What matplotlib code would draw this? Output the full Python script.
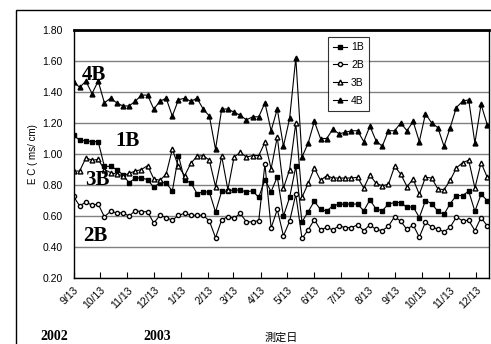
import matplotlib
matplotlib.use("Agg")
import matplotlib.pyplot as plt
import pandas as pd
from matplotlib.patches import Rectangle

# weekly measurements, 2002-09-13 .. 2003-12-26
dates = pd.date_range("2002-09-13", periods=68, freq="7D")

ec_1b = [1.12, 1.09, 1.085, 1.08, 1.08, 0.92, 0.92, 0.90, 0.865, 0.815,
         0.845, 0.845, 0.835, 0.785, 0.815, 0.815, 0.76, 0.99, 0.83, 0.815,
         0.745, 0.755, 0.755, 0.625, 0.76, 0.76, 0.77, 0.765, 0.757, 0.762,
         0.72, 0.835, 0.757, 0.853, 0.60, 0.72, 0.92, 0.562, 0.628, 0.695,
         0.642, 0.632, 0.666, 0.675, 0.677, 0.677, 0.677, 0.634, 0.704, 0.645,
         0.634, 0.677, 0.687, 0.687, 0.655, 0.66, 0.59, 0.70, 0.68, 0.63,
         0.61, 0.68, 0.732, 0.732, 0.76, 0.63, 0.74, 0.70]
ec_2b = [0.727, 0.665, 0.69, 0.67, 0.677, 0.595, 0.63, 0.62, 0.62, 0.60,
         0.634, 0.628, 0.628, 0.554, 0.605, 0.59, 0.572, 0.605, 0.617, 0.605,
         0.605, 0.605, 0.568, 0.46, 0.575, 0.596, 0.585, 0.617, 0.562, 0.562,
         0.57, 0.935, 0.523, 0.642, 0.472, 0.567, 0.74, 0.455, 0.51, 0.577,
         0.51, 0.527, 0.51, 0.537, 0.525, 0.525, 0.543, 0.506, 0.543, 0.513,
         0.506, 0.534, 0.596, 0.566, 0.513, 0.543, 0.464, 0.56, 0.53, 0.515,
         0.498, 0.528, 0.593, 0.57, 0.572, 0.506, 0.59, 0.536]
ec_3b = [0.89, 0.89, 0.975, 0.96, 0.965, 0.90, 0.88, 0.87, 0.86, 0.875,
         0.89, 0.90, 0.925, 0.84, 0.83, 0.87, 1.03, 0.92, 0.86, 0.94,
         0.985, 0.99, 0.96, 0.79, 0.985, 0.77, 0.98, 1.01, 0.98, 0.99,
         0.99, 1.075, 0.905, 1.11, 0.78, 0.90, 1.20, 0.72, 0.81, 0.91,
         0.83, 0.86, 0.845, 0.845, 0.845, 0.845, 0.85, 0.78, 0.865, 0.81,
         0.795, 0.805, 0.92, 0.87, 0.79, 0.837, 0.74, 0.85, 0.845, 0.775,
         0.77, 0.83, 0.91, 0.944, 0.96, 0.78, 0.944, 0.85]
ec_4b = [1.467, 1.43, 1.47, 1.39, 1.47, 1.33, 1.36, 1.33, 1.31, 1.31,
         1.34, 1.38, 1.38, 1.29, 1.34, 1.36, 1.245, 1.35, 1.36, 1.34,
         1.36, 1.29, 1.245, 1.03, 1.29, 1.29, 1.27, 1.25, 1.22, 1.24,
         1.24, 1.33, 1.15, 1.29, 1.05, 1.23, 1.62, 0.98, 1.07, 1.21,
         1.10, 1.10, 1.16, 1.13, 1.14, 1.15, 1.15, 1.08, 1.18, 1.085,
         1.05, 1.15, 1.15, 1.20, 1.15, 1.21, 1.08, 1.26, 1.20, 1.17,
         1.05, 1.17, 1.30, 1.34, 1.35, 1.07, 1.32, 1.19]

tick_dates = pd.date_range("2002-09-13", periods=16, freq=pd.DateOffset(months=1))
tick_labels = ["9/13", "10/13", "11/13", "12/13", "1/13", "2/13", "3/13", "4/13",
               "5/13", "6/13", "7/13", "8/13", "9/13", "10/13", "11/13", "12/13"]
y_ticks = [0.20, 0.40, 0.60, 0.80, 1.00, 1.20, 1.40, 1.60, 1.80]

plt.rcParams["font.family"] = ["Liberation Sans", "Noto Sans CJK JP", "DejaVu Sans"]

fig = plt.figure(figsize=(4.91, 3.44), dpi=100)
ax = fig.add_axes([73.5 / 491, 1 - 278 / 344, 415.5 / 491, 248 / 344])

# outer chart frame (cut off at right and bottom)
fig.patches.append(Rectangle((16 / 491, -0.1), 1.2, 1 - 10 / 344 + 0.1,
                             transform=fig.transFigure, fill=False,
                             edgecolor="black", linewidth=1.0))

style = dict(color="black", linewidth=0.8)
ax.plot(dates, ec_1b, marker="s", markersize=3, markerfacecolor="black", label="1B", **style)
ax.plot(dates, ec_2b, marker="o", markersize=3, markerfacecolor="white", label="2B", **style)
ax.plot(dates, ec_3b, marker="^", markersize=3.5, markerfacecolor="white", label="3B", **style)
ax.plot(dates, ec_4b, marker="^", markersize=3.5, markerfacecolor="black", label="4B", **style)

ax.set_ylim(0.2, 1.8)
ax.set_yticks(y_ticks)
ax.set_yticklabels([f"{v:.2f}" for v in y_ticks], fontsize=7.5)
ax.yaxis.grid(True, color="#808080", linewidth=1.0)
ax.set_axisbelow(True)
ax.tick_params(axis="y", length=0, pad=8)

ax.set_xlim(pd.Timestamp("2002-09-13"), pd.Timestamp("2002-09-13") + pd.Timedelta(days=471))
ax.set_xticks(tick_dates)
ax.set_xticklabels(tick_labels, fontsize=7.5, rotation=45, ha="right", rotation_mode="anchor")
ax.tick_params(axis="x", direction="in", length=4, width=0.8, pad=5)

for s in ax.spines.values():
    s.set_color("black")
    s.set_linewidth(1.0)
ax.spines["top"].set_linewidth(2.0)

ax.set_ylabel("E C ( ms/ cm)", fontsize=7, labelpad=3)

leg = ax.legend(loc="upper left", bbox_to_anchor=(0.613, 0.972), borderaxespad=0,
                fontsize=7.5, handlelength=1.3, handletextpad=0.4, labelspacing=0.75,
                frameon=True, fancybox=False, borderpad=0.5)
leg.get_frame().set_edgecolor("black")
leg.get_frame().set_linewidth(0.8)

serif = dict(family="Liberation Serif", fontweight="bold", fontsize=15,
             transform=ax.transAxes, ha="center", va="center", zorder=5)
ax.text(0.049, 0.819, "4B", **serif)
ax.text(0.131, 0.552, "1B", **serif)
ax.text(0.057, 0.395, "3B", **serif)
ax.text(0.052, 0.169, "2B", **serif)

fig.text(281 / 491, 1 - 338 / 344, "測定日", fontsize=8, ha="center", va="center",
         family=["Noto Sans CJK JP", "DejaVu Sans"])
fig.text(54 / 491, 0.004, "2002", family="Liberation Serif", fontweight="bold",
         fontsize=10, ha="center", va="bottom")
fig.text(157 / 491, 0.004, "2003", family="Liberation Serif", fontweight="bold",
         fontsize=10, ha="center", va="bottom")

fig.savefig("out.png", dpi=100)
